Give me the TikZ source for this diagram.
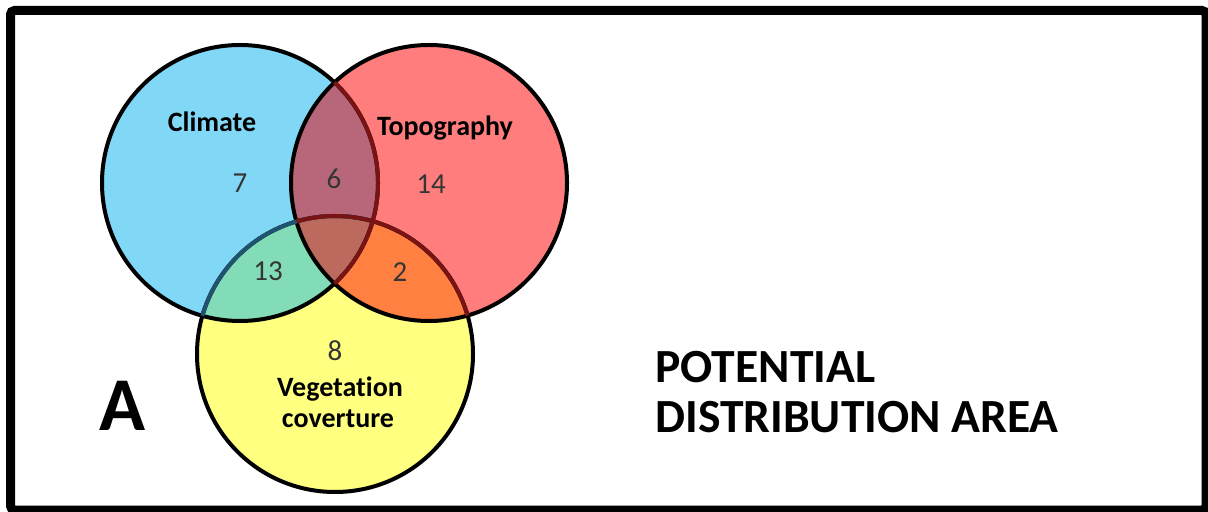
\documentclass[tikz,border=0pt]{standalone}
\usepackage{fontspec}
\setmainfont[Ligatures={NoCommon}, Contextuals={NoAlternate}]{Carlito}
\usepackage{tikz}
\usetikzlibrary{positioning}
\definecolor{climateblue}{HTML}{80D8F6}
\definecolor{topored}{HTML}{FF7D7D}
\definecolor{vegyellow}{HTML}{FFFF80}
\definecolor{ctmix}{HTML}{B8677A}
\definecolor{cvmix}{HTML}{82DCB8}
\definecolor{tvmix}{HTML}{FF8040}
\definecolor{allmix}{HTML}{BC6A5E}
\definecolor{darkrim}{HTML}{7A1414}
\definecolor{bluerim}{HTML}{1E5470}
\definecolor{numgray}{HTML}{353535}
\tikzstyle{rim} = [draw, line width=2pt]
\tikzstyle{setname} = [font=\fontsize{14}{15}\selectfont\bfseries, anchor=base, inner sep=0pt]
\tikzstyle{count} = [font=\fontsize{14.5}{15}\selectfont, text=numgray, anchor=base, inner sep=0pt]
\tikzstyle{caption} = [font=\fontsize{23.8}{24.5}\selectfont\bfseries, anchor=base west, inner sep=0pt]
\def\setr{138}

\begin{document}
\begin{tikzpicture}[x=0.5pt, y=-0.5pt]
\useasboundingbox (0,0) rectangle (1208,512);
% Frame
	\draw [line width=4.5pt, rounded corners=2pt] (10.5,10.5) rectangle (1206,510);
% Set centres
	\coordinate (climate) at (240,183);
	\coordinate (topo) at (429,183);
	\coordinate (veg) at (335,354);
% Fills
	\fill [vegyellow] (veg) circle (\setr);
	\fill [climateblue] (climate) circle (\setr);
	\fill [topored] (topo) circle (\setr);
	\begin{scope}
	  \clip (climate) circle (\setr);
	  \fill [ctmix] (topo) circle (\setr);
	  \fill [cvmix] (veg) circle (\setr);
	\end{scope}
	\begin{scope}
	  \clip (topo) circle (\setr);
	  \fill [tvmix] (veg) circle (\setr);
	\end{scope}
	\begin{scope}
	  \clip (climate) circle (\setr);
	  \clip (topo) circle (\setr);
	  \fill [allmix] (veg) circle (\setr);
	\end{scope}
% Outlines
	\draw [rim] (veg) circle (\setr);
	\draw [rim] (climate) circle (\setr);
	\draw [rim] (topo) circle (\setr);
	\begin{scope}
	  \clip (climate) circle (\setr);
	  \draw [rim, bluerim] (veg) circle (\setr);
	\end{scope}
	\begin{scope}
	  \clip (topo) circle (\setr);
	  \draw [rim, darkrim] (veg) circle (\setr);
	  \draw [rim, darkrim] (climate) circle (\setr);
	\end{scope}
% Labels
	\node [setname] (lclimate) at (212,132) {Climate};
	\node [setname] (ltopo) at (445,136) {Topography};
	\node [setname] (lveg) at (340,397) {Vegetation};
	\node [setname] (lcover) at (338,428) {coverture};
	\node [count] (n7) at (240,193) {7};
	\node [count] (n6) at (334,189) {6};
	\node [count] (n14) at (431,194) {14};
	\node [count] (n13) at (268,281) {13};
	\node [count] (n2) at (400,282) {2};
	\node [count] (n8) at (335,361) {8};
% Notations
	\node [font=\fontsize{38}{38}\selectfont\bfseries, anchor=base, inner sep=0pt] (panel) at (123,430) {A};
	\node [caption] (cap1) at (655,383) {POTENTIAL};
	\node [caption] (cap2) at (655,432) {DISTRIBUTION AREA};
\end{tikzpicture}
\end{document}
